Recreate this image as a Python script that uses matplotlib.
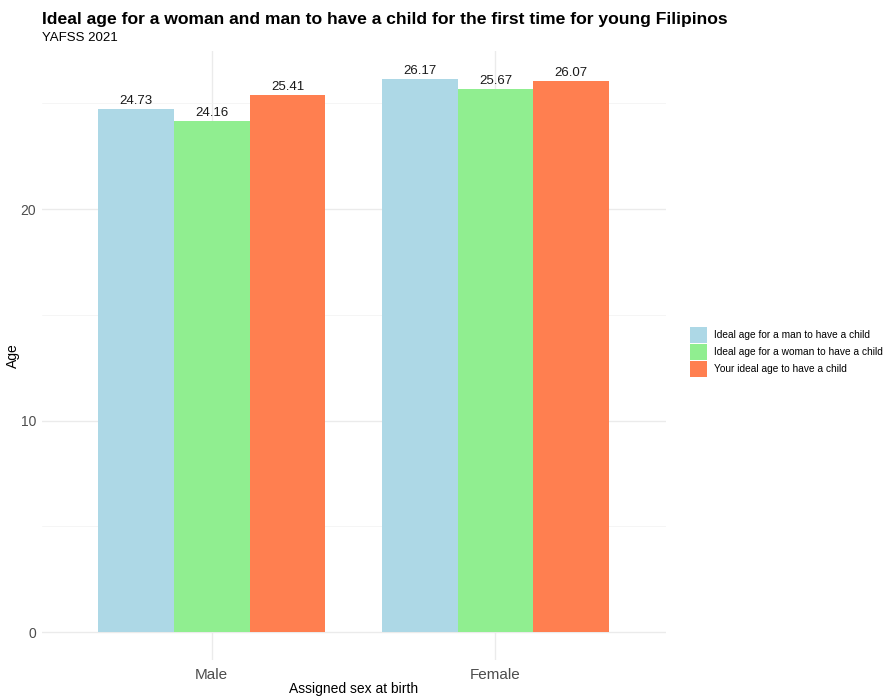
import matplotlib
matplotlib.use("Agg")
import matplotlib.pyplot as plt
import numpy as np
from matplotlib.patches import Patch

plt.rcParams['font.family'] = ['Liberation Sans', 'DejaVu Sans']

# data
groups = ["Male", "Female"]
series = ["Ideal age for a man to have a child",
          "Ideal age for a woman to have a child",
          "Your ideal age to have a child"]
man_vals = [24.73, 26.17]
woman_vals = [24.16, 25.67]
own_vals = [25.41, 26.07]
colors = ["#ADD8E6", "#90EE90", "#FF7F50"]

fig = plt.figure(figsize=(8.9, 6.97), dpi=100)
ax = fig.add_axes([0.0467, 0.0535, 0.7013, 0.8735])

x = np.arange(1, len(groups) + 1)
width = 0.8 / 3
for i, (vals, col) in enumerate(zip([man_vals, woman_vals, own_vals], colors)):
    pos = x + (i - 1) * width
    ax.bar(pos, vals, width=width, color=col, zorder=2, label=series[i])
    for p, v in zip(pos, vals):
        ax.text(p, v + 0.08, f"{v:.2f}", ha="center", va="bottom",
                fontsize=9.5, color="#1a1a1a", zorder=3)

ymax = max(man_vals + woman_vals + own_vals)
ax.set_ylim(-0.05 * ymax, 1.05 * ymax)
ax.set_xlim(0.4, 2.6)

ax.set_xticks(x)
ax.set_xticklabels(groups, fontsize=11, color="#4d4d4d")
ax.set_yticks([0, 10, 20])
ax.set_yticks([5, 15, 25], minor=True)
ax.tick_params(axis="both", which="both", length=0, labelsize=10, colors="#4d4d4d")
ax.tick_params(axis="x", labelsize=11, pad=6)
ax.tick_params(axis="y", pad=4)

ax.grid(which="major", color="#ebebeb", linewidth=1.0, zorder=0)
ax.grid(which="minor", axis="y", color="#f2f2f2", linewidth=0.5, zorder=0)
ax.set_axisbelow(True)
for s in ax.spines.values():
    s.set_visible(False)

# axis titles placed in figure coords
fig.text(0.397, 0.012, "Assigned sex at birth", fontsize=10, ha="center", va="center")
fig.text(0.015, 0.49, "Age", fontsize=10, rotation=90, ha="center", va="center")

fig.text(0.0467, 0.966, "Ideal age for a woman and man to have a child for the first time for young Filipinos",
         fontsize=12.6, fontweight="bold", ha="left", va="baseline")
fig.text(0.0467, 0.941, "YAFSS 2021", fontsize=9.5, ha="left", va="baseline")

handles = [Patch(facecolor=c, edgecolor="none") for c in colors]
fig.legend(handles, series, loc="center left", bbox_to_anchor=(0.7705, 0.495),
           frameon=False, fontsize=7.3, handlelength=1.7, handleheight=2.0,
           handletextpad=0.7, labelspacing=0.15, borderaxespad=0)

fig.savefig("out.png", dpi=100, facecolor="white")
